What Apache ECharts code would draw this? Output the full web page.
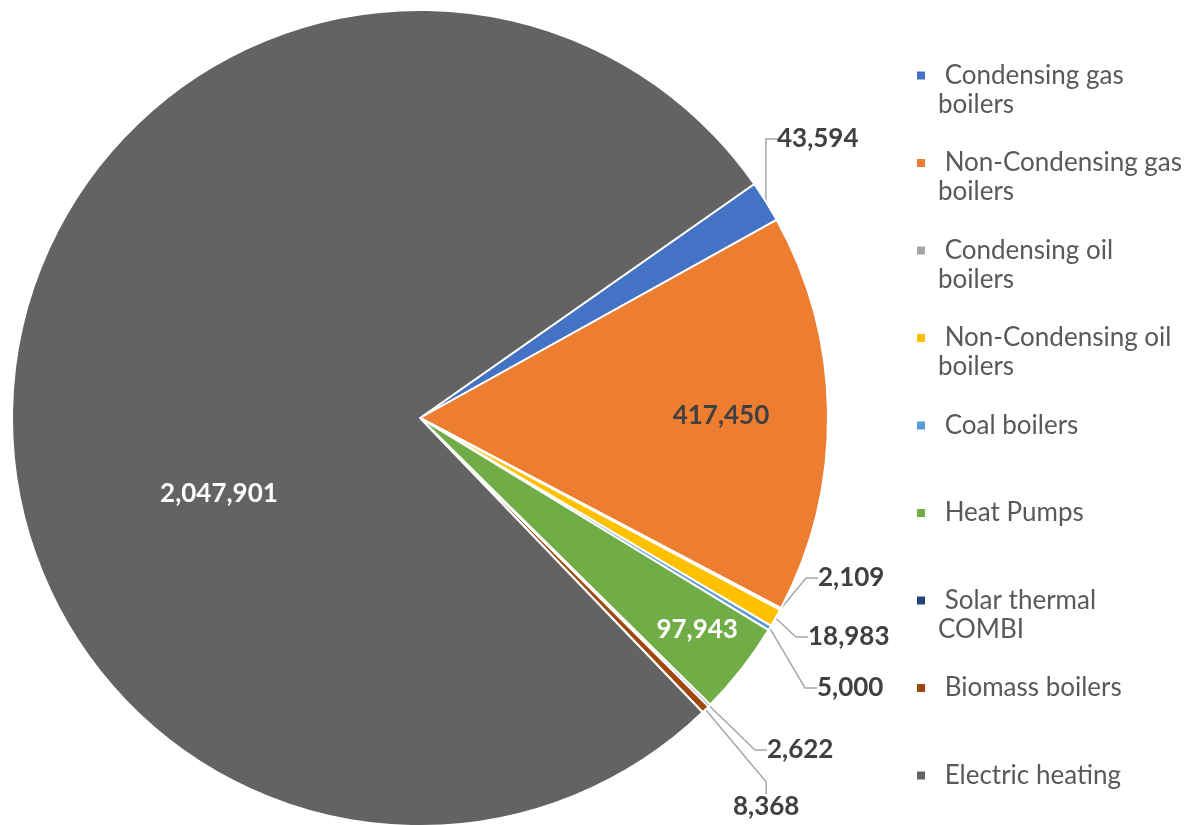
<!DOCTYPE html>
<html>
<head>
<meta charset="utf-8">
<script src="https://cdn.jsdelivr.net/npm/echarts@6/dist/echarts.min.js"></script>
<style>
  html, body { margin: 0; padding: 0; background: #fff; }
  #chart { width: 1200px; height: 825px; }
</style>
</head>
<body>
<div id="chart"></div>
<script>
// data
const categories = [
  'Condensing gas boilers', 'Non-Condensing gas boilers', 'Condensing oil boilers',
  'Non-Condensing oil boilers', 'Coal boilers', 'Heat Pumps',
  'Solar thermal COMBI', 'Biomass boilers', 'Electric heating'
]
const values = [43594, 417450, 2109, 18983, 5000, 97943, 2622, 8368, 2047901]
const legendLabels = [
  'Condensing gas\nboilers', 'Non-Condensing gas\nboilers', 'Condensing oil\nboilers',
  'Non-Condensing oil\nboilers', 'Coal boilers', 'Heat Pumps',
  'Solar thermal\nCOMBI', 'Biomass boilers', 'Electric heating'
]
const colors = ['#4472C4', '#ED7D31', '#A5A5A5', '#FFC000', '#5B9BD5', '#70AD47', '#264478', '#9E480E', '#636363']

// slices that carry their label inside (offset from the library's spot)
const insideLabels = {
  1: { offset: [94, 0], color: '#404040' },
  5: { offset: [114, 84], color: '#ffffff' },
  8: { offset: [5, 96], color: '#ffffff' }
}
// where the outside labels sit (left edge, middle), like the Excel callouts
const calloutPos = {
  0: [777, 139],
  2: [818, 578],
  3: [808, 637],
  4: [817, 688],
  6: [767, 750],
  7: [733, 807]
}

const chart = echarts.init(document.getElementById('chart'))

const seriesData = values.map((v, i) => {
  const item = { name: categories[i], value: v, itemStyle: { color: colors[i] } }
  if (insideLabels[i]) {
    item.label = { position: 'inside', offset: insideLabels[i].offset, color: insideLabels[i].color }
    item.labelLine = { show: false }
  }
  return item
})

chart.setOption({
  animation: false,
  legend: {
    orient: 'vertical',
    left: 915,
    top: 32,
    padding: 0,
    itemWidth: 10,
    itemHeight: 10,
    itemGap: 0.5,
    icon: 'rect',
    data: categories,
    formatter: name => {
      const parts = legendLabels[categories.indexOf(name)].split('\n')
      return '\n ' + parts[0] + '\n' + (parts[1] || ' ')
    },
    textStyle: {
      fontFamily: 'Lato',
      fontSize: 26,
      color: '#595959',
      lineHeight: 29,
      padding: [0, 0, 0, 7]
    }
  },
  series: [{
    type: 'pie',
    center: [420, 418],
    radius: 408,
    startAngle: 35,
    clockwise: true,
    avoidLabelOverlap: false,
    itemStyle: { borderColor: '#fff', borderWidth: 2 },
    label: {
      show: true,
      position: 'outside',
      formatter: p => p.value.toLocaleString('en-US'),
      fontFamily: 'Lato',
      fontWeight: 'bold',
      fontSize: 26,
      color: '#404040'
    },
    labelLine: {
      show: true,
      length: 20,
      length2: 12,
      lineStyle: { color: '#A6A6A6', width: 1.5 }
    },
    labelLayout: params => {
      const p = calloutPos[params.dataIndex]
      if (!p) return {}
      return { x: p[0], y: p[1], align: 'left', verticalAlign: 'middle' }
    },
    data: seriesData
  }]
})
</script>
</body>
</html>
